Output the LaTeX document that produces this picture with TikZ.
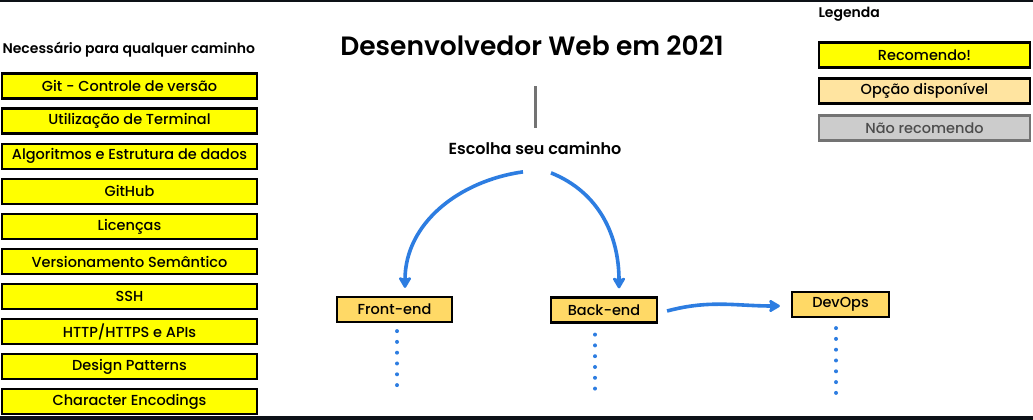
\documentclass[tikz,border=0pt]{standalone}
\usepackage{fontspec}
\setmainfont{Poppins}[UprightFont=* Medium, BoldFont=* SemiBold]
\usetikzlibrary{positioning,arrows.meta}

\definecolor{recyellow}{RGB}{255,255,0}
\definecolor{optorange}{RGB}{255,217,102}
\definecolor{legorange}{RGB}{255,228,160}
\definecolor{nogrey}{RGB}{204,204,204}
\definecolor{pathblue}{RGB}{45,125,225}
\definecolor{edgedark}{RGB}{13,17,23}

\tikzset{
  box/.style={draw, line width=2.2pt, inner sep=0pt, minimum height=25pt,
    font=\fontsize{14.5}{17}\selectfont},
  must/.style={box, fill=recyellow, minimum width=255.5pt},
  option/.style={box, fill=optorange},
  legbox/.style={box, minimum width=210.5pt},
  path arrow/.style={draw=pathblue, line width=3.6pt,
    -{Stealth[length=13pt,width=15pt,inset=3pt,round]}},
  more/.style={draw=pathblue, line width=4pt, line cap=round,
    dash pattern=on 0pt off 10.8pt}
}

\begin{document}
\begin{tikzpicture}[x=1pt,y=1pt,node distance=35.1pt,on grid]
  \useasboundingbox (0,0) rectangle (1033,420);
  \fill[white] (0,0) rectangle (1033,420);
  \fill[edgedark] (0,418) rectangle (1033,420);
  \fill[edgedark] (0,0) rectangle (1033,4);

  % caminho comum
  \path
  node[must] at (129.5,334) (git) {Git - Controle de versão}
  node[must,below=of git] (terminal) {Utilização de Terminal}
  node[must,below=of terminal] (algo) {Algoritmos e Estrutura de dados}
  node[must,below=of algo] (github) {GitHub}
  node[must,below=of github] (licencas) {Licenças}
  node[must,below=of licencas] (semver) {Versionamento Semântico}
  node[must,below=of semver] (ssh) {SSH}
  node[must,below=of ssh] (http) {HTTP/HTTPS e APIs}
  node[must,below=of http] (patterns) {Design Patterns}
  node[must,below=of patterns] (encodings) {Character Encodings}
  node[anchor=west, font=\fontsize{14}{16}\selectfont\bfseries] at (-1,370) (comum)
  {Necessário para qualquer caminho}
  ;

  % titulo e caminhos
  \path
  node[font=\fontsize{26.5}{31}\selectfont\bfseries] at (532,374) (title)
  {Desenvolvedor Web em 2021}
  node[font=\fontsize{16}{19}\selectfont\bfseries] at (535,272) (escolha)
  {Escolha seu caminho}
  node[option, minimum width=115pt] at (394.5,110.5) (frontend) {Front-end}
  node[option, minimum width=106pt] at (604,110) (backend) {Back-end}
  node[option, minimum width=97pt] at (840.5,115.5) (devops) {DevOps}
  ;

  % legenda
  \path
  node[anchor=west, font=\fontsize{14}{16}\selectfont\bfseries] at (815,406)
  (legenda) {Legenda}
  node[legbox, fill=recyellow] at (924.5,365) (recomendo) {Recomendo!}
  node[legbox, fill=legorange, below=36pt of recomendo] (disponivel)
  {Opção disponível}
  node[legbox, fill=nogrey, draw=black!55, text=black!70, below=37pt of disponivel]
  (naorec) {Não recomendo}
  ;

  \draw[black!55, line width=3pt, shorten <=20pt, shorten >=40pt]
  (escolha.center) -- (escolha.center |- title.center);

  \path
  ([xshift=-12pt,yshift=-14pt]escolha.south) edge[path arrow, out=188, in=90]
  ([xshift=10.5pt,yshift=8pt]frontend.north)
  ([xshift=16pt,yshift=-15pt]escolha.south) edge[path arrow, out=-22, in=90]
  ([xshift=15pt,yshift=8pt]backend.north)
  ([xshift=9pt,yshift=-1pt]backend.east) edge[path arrow, out=15, in=180]
  ([xshift=-11pt,yshift=-1.5pt]devops.west)
  ;

  % continua...
  \draw[more] ([xshift=2.5pt,yshift=-8pt]frontend.south) -- ++(0,-56);
  \draw[more] ([xshift=-9pt,yshift=-11pt]backend.south) -- ++(0,-56);
  \draw[more] ([xshift=-4.5pt,yshift=-10pt]devops.south) -- ++(0,-66);
\end{tikzpicture}
\end{document}
